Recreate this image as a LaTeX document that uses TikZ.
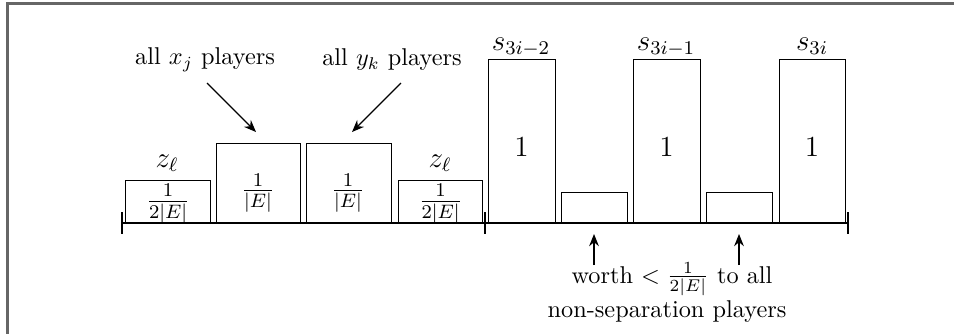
\documentclass[tikz,border=0pt]{standalone}
\usetikzlibrary{arrows.meta}
\begin{document}
\begin{tikzpicture}[x=0.4115pt,y=-0.4115pt,
  bar/.style={draw,line width=0.5pt},
  lbl/.style={inner sep=0pt,font=\large},
  note/.style={inner sep=0pt,align=center},
  pointer/.style={-{Stealth[length=5pt,width=4pt]},line width=0.5pt},
  frameline/.style={draw=black!60,line width=1.2pt}]
\useasboundingbox (0,0) rectangle (954,334);
% frame (top and left edges)
\draw[frameline] (954,3.5) -- (7.5,3.5) -- (7.5,334);
% baseline and ticks
\coordinate (b0) at (122,223);
\coordinate (b1) at (485,223);
\coordinate (b2) at (848,223);
\draw[line width=0.5pt] (b0) -- (b2);
\draw[line width=0.5pt] (122,212) -- (122,234);
\draw[line width=0.5pt] (485,212) -- (485,234);
\draw[line width=0.5pt] (848,212) -- (848,234);
% left half boxes
\node[bar,minimum width=85*0.4115pt,minimum height=42*0.4115pt,inner sep=0pt,anchor=south west] (z1) at (125,223) {};
\node[bar,minimum width=84*0.4115pt,minimum height=79*0.4115pt,inner sep=0pt,anchor=south west] (e1) at (216,223) {};
\node[bar,minimum width=85*0.4115pt,minimum height=79*0.4115pt,inner sep=0pt,anchor=south west] (e2) at (306,223) {};
\node[bar,minimum width=84*0.4115pt,minimum height=42*0.4115pt,inner sep=0pt,anchor=south west] (z2) at (398,223) {};
\node[lbl] at (z1.center) [yshift=-1pt] {$\frac{1}{2|E|}$};
\node[lbl] at (z2.center) [yshift=-1pt] {$\frac{1}{2|E|}$};
\node[lbl] at (258,193) {$\frac{1}{|E|}$};
\node[lbl] at (348,193) {$\frac{1}{|E|}$};
\node[lbl] (zl1) at (167,163) {$z_\ell$};
\node[lbl] (zl2) at (440,163) {$z_\ell$};
% right half boxes
\node[bar,minimum width=67*0.4115pt,minimum height=163*0.4115pt,inner sep=0pt,anchor=south west] (s1) at (488,223) {};
\node[bar,minimum width=66*0.4115pt,minimum height=30*0.4115pt,inner sep=0pt,anchor=south west] (g1) at (561,223) {};
\node[bar,minimum width=67*0.4115pt,minimum height=163*0.4115pt,inner sep=0pt,anchor=south west] (s2) at (633,223) {};
\node[bar,minimum width=66*0.4115pt,minimum height=30*0.4115pt,inner sep=0pt,anchor=south west] (g2) at (706,223) {};
\node[bar,minimum width=66*0.4115pt,minimum height=163*0.4115pt,inner sep=0pt,anchor=south west] (s3) at (779,223) {};
\node[lbl] at (521.5,147) {$1$};
\node[lbl] at (666.5,147) {$1$};
\node[lbl] at (812,147) {$1$};
\node[lbl,anchor=base] (sl1) at (521,50) {$s_{3i-2}$};
\node[lbl,anchor=base] (sl2) at (666,50) {$s_{3i-1}$};
\node[lbl,anchor=base] (sl3) at (812,50) {$s_{3i}$};
% top annotations
\node[note] (xj) at (205,60) {all $x_j$ players};
\node[note] (yk) at (392,60) {all $y_k$ players};
\coordinate (xjs) at (207,83);
\coordinate (xje) at (256,132);
\coordinate (yks) at (401,83);
\coordinate (yke) at (352,132);
\draw[pointer] (xjs) -- (xje);
\draw[pointer] (yks) -- (yke);
% bottom annotation
\node[note,anchor=base] (w1) at (672,283) {worth $<\frac{1}{2|E|}$ to all};
\node[note,anchor=base] (w2) at (667,317) {non-separation players};
\coordinate (a1s) at (594,265);
\coordinate (a1e) at (594,234);
\coordinate (a2s) at (739,265);
\coordinate (a2e) at (739,234);
\draw[pointer] (a1s) -- (a1e);
\draw[pointer] (a2s) -- (a2e);
\end{tikzpicture}
\end{document}
